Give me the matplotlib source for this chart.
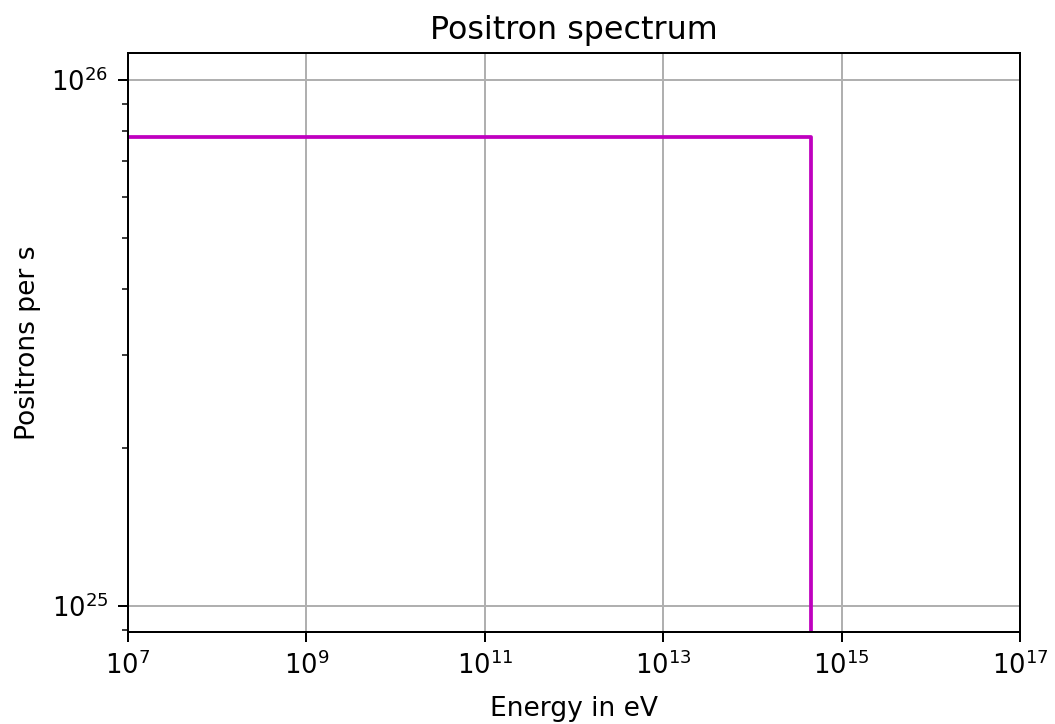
import matplotlib
matplotlib.use("Agg")
import matplotlib.pyplot as plt
from matplotlib.ticker import NullFormatter

# Data
energy_eV = [1e6, 4.5e14, 4.5e14]
positrons_per_s = [7.78e25, 7.78e25, 1e20]
x_ticks = [1e7, 1e9, 1e11, 1e13, 1e15, 1e17]

fig = plt.figure(figsize=(1055/180, 724/180), dpi=180)
ax = fig.add_axes([128/1055, 1-632/724, (1020-128)/1055, (632-53)/724])
ax.plot(energy_eV, positrons_per_s, color='m', lw=1.5)
ax.set_xscale('log')
ax.set_yscale('log')
ax.set_xlim(1e7, 1e17)
ax.set_ylim(8.92e24, 1.125e26)
ax.set_xticks(x_ticks)
ax.xaxis.set_minor_locator(plt.NullLocator())
ax.yaxis.set_minor_formatter(NullFormatter())
ax.tick_params(which='major', length=4, pad=4, labelsize=10.3)
ax.tick_params(which='minor', length=2.5)
ax.grid(True, which='major')
ax.set_title('Positron spectrum', fontsize=12.7, pad=5.5)
ax.set_xlabel('Energy in eV', fontsize=10.6, labelpad=6)
ax.set_ylabel('Positrons per s', fontsize=10.6, labelpad=4.3)
fig.savefig('out.png', dpi=180)
